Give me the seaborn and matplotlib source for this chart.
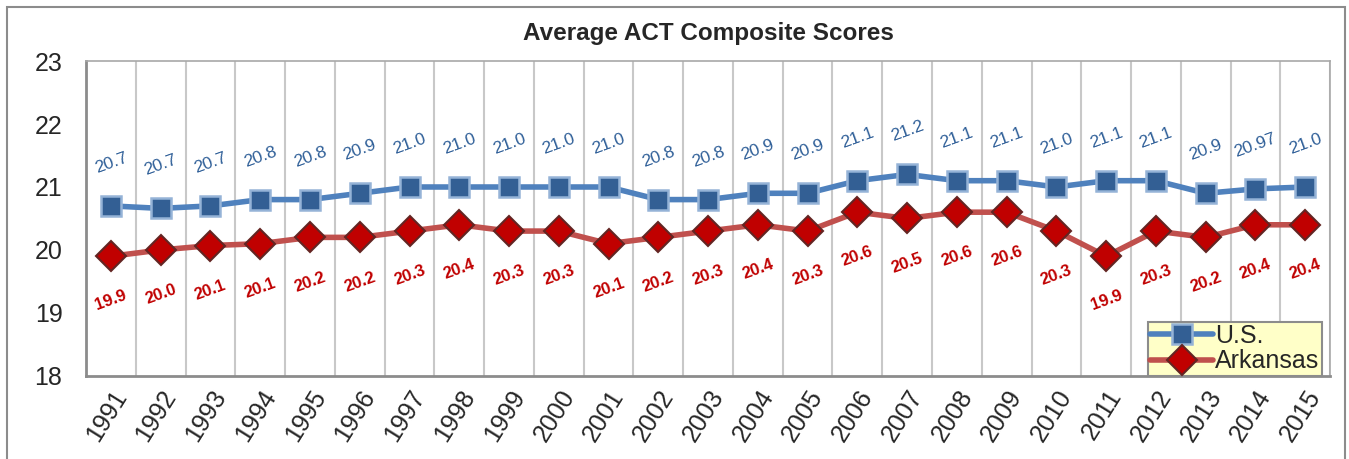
import numpy as np
import pandas as pd
import matplotlib
matplotlib.use("Agg")
import matplotlib.pyplot as plt
from matplotlib.patches import Rectangle
import seaborn as sns

# values
years = [str(y) for y in range(1991, 2016)]
us_scores = [20.7, 20.66, 20.7, 20.8, 20.8, 20.9, 21.0, 21.0, 21.0, 21.0, 21.0, 20.8, 20.8,
             20.9, 20.9, 21.1, 21.2, 21.1, 21.1, 21.0, 21.1, 21.1, 20.9, 20.97, 21.0]
us_labels = ["20.7", "20.7", "20.7", "20.8", "20.8", "20.9", "21.0", "21.0", "21.0", "21.0",
             "21.0", "20.8", "20.8", "20.9", "20.9", "21.1", "21.2", "21.1", "21.1", "21.0",
             "21.1", "21.1", "20.9", "20.97", "21.0"]
ar_scores = [19.9, 20.0, 20.07, 20.1, 20.2, 20.2, 20.3, 20.4, 20.3, 20.3, 20.1, 20.2, 20.3,
             20.4, 20.3, 20.6, 20.5, 20.6, 20.6, 20.3, 19.9, 20.3, 20.2, 20.4, 20.4]
ar_labels = ["19.9", "20.0", "20.1", "20.1", "20.2", "20.2", "20.3", "20.4", "20.3", "20.3",
             "20.1", "20.2", "20.3", "20.4", "20.3", "20.6", "20.5", "20.6", "20.6", "20.3",
             "19.9", "20.3", "20.2", "20.4", "20.4"]

sns.set_style("white")
plt.rcParams["font.family"] = ["Liberation Sans Narrow", "Liberation Sans", "DejaVu Sans"]

df = pd.DataFrame({"pos": np.arange(len(years)) + 0.5, "US": us_scores, "AR": ar_scores})

fig = plt.figure(figsize=(13.49, 4.59), dpi=100)
ax = fig.add_axes([0.0638, 0.181, 0.9222, 0.686])

# outer chart frame
fig.patches.append(Rectangle((7 / 1349, -0.05), 1338 / 1349, 1.05 - 7 / 459,
                             transform=fig.transFigure, fill=False,
                             edgecolor="#8c8c8c", linewidth=1.5))

sns.lineplot(data=df, x="pos", y="US", ax=ax, color="#4F81BD", linewidth=4,
             marker="s", markersize=15, markerfacecolor="#335F94",
             markeredgecolor="#95B3D7", markeredgewidth=1.8, label="U.S.", zorder=4)
sns.lineplot(data=df, x="pos", y="AR", ax=ax, color="#C0504D", linewidth=4,
             marker="D", markersize=15, markerfacecolor="#C00000",
             markeredgecolor="#632523", markeredgewidth=1.5, label="Arkansas", zorder=4)

for x, y, t in zip(df["pos"], df["US"], us_labels):
    ax.annotate(t, (x, y), xytext=(0, 31), textcoords="offset points", ha="center",
                va="center", rotation=20, color="#2F5F98", fontsize=12.5)
for x, y, t in zip(df["pos"], df["AR"], ar_labels):
    ax.annotate(t, (x, y), xytext=(0, -32), textcoords="offset points", ha="center",
                va="center", rotation=20, color="#C00000", fontsize=12,
                fontweight="bold")

ax.set_xlim(0, len(years))
ax.set_ylim(18, 23)
ax.set_yticks([18, 19, 20, 21, 22, 23])
ax.set_xticks(np.arange(len(years) + 1))
ax.set_xticklabels([])
ax.set_xticks(np.arange(len(years)) + 0.5, minor=True)
ax.set_xticklabels(years, minor=True, rotation=58, ha="right", rotation_mode="anchor",
                   fontsize=18)
ax.tick_params(axis="x", which="minor", length=0, pad=7)
ax.tick_params(axis="x", which="major", direction="inout", length=10, width=1.5,
               color="#8c8c8c")
ax.tick_params(axis="y", labelsize=18, length=0, pad=17)
ax.grid(axis="x", which="major", color="#c8c8c8", linewidth=1.5)
ax.set_axisbelow(True)
for side in ["top", "right"]:
    ax.spines[side].set_color("#a8a8a8")
    ax.spines[side].set_linewidth(1.2)
for side in ["left", "bottom"]:
    ax.spines[side].set_color("#8c8c8c")
    ax.spines[side].set_linewidth(2)
ax.set_xlabel("")
ax.set_ylabel("")

ax.set_title("Average ACT Composite Scores", fontsize=17.5, fontweight="bold", pad=15)

leg = ax.legend(loc="lower right", bbox_to_anchor=(0.9935, 0.0), fontsize=18,
                frameon=True, fancybox=False, facecolor="#FFFFC8", edgecolor="#8c8c8c",
                handlelength=2.5, handletextpad=0.1, borderpad=0.1, labelspacing=0.05,
                borderaxespad=0.0, framealpha=1)
leg.get_frame().set_linewidth(1.5)

fig.savefig("out.png", dpi=100)
